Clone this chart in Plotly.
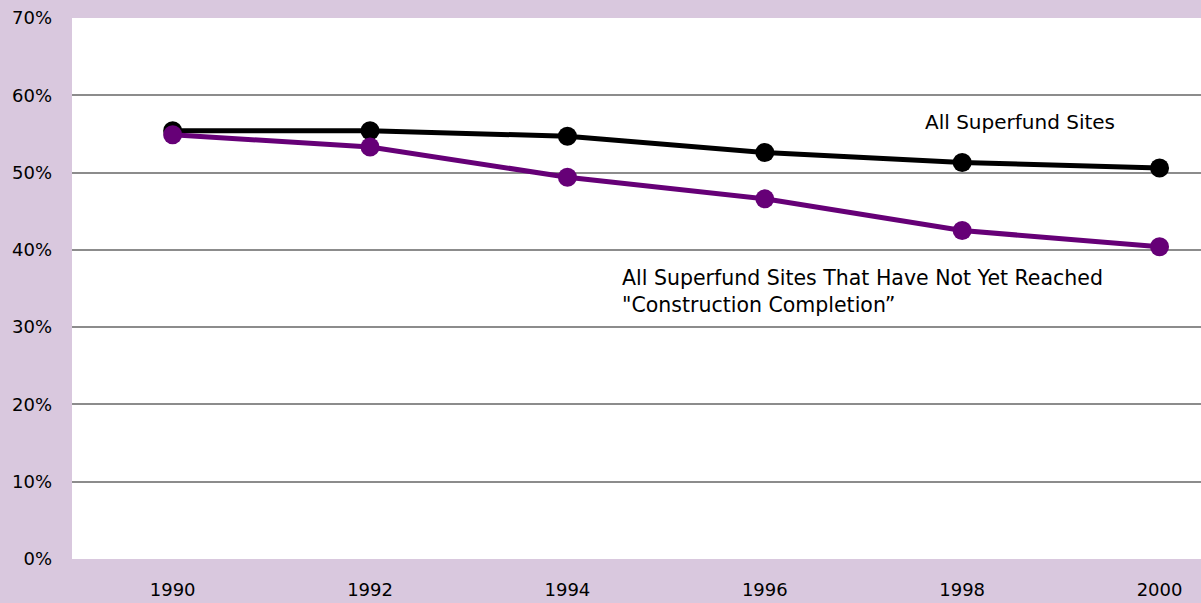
import plotly.graph_objects as go

years = [1990, 1992, 1994, 1996, 1998, 2000]
all_sites = [55.4, 55.4, 54.7, 52.6, 51.3, 50.6]
not_completed = [54.9, 53.3, 49.4, 46.6, 42.5, 40.4]
y_ticks = [0, 10, 20, 30, 40, 50, 60, 70]
y_tick_labels = ["0%", "10%", "20%", "30%", "40%", "50%", "60%", "70%"]

FONT = "DejaVu Sans, Liberation Sans, sans-serif"
BG = "#d9c8de"
PURPLE = "#660077"

fig = go.Figure()
fig.add_trace(go.Scatter(x=years, y=all_sites, mode="lines+markers",
                         line=dict(color="black", width=5),
                         marker=dict(color="black", size=19),
                         name="All Superfund Sites"))
fig.add_trace(go.Scatter(x=years, y=not_completed, mode="lines+markers",
                         line=dict(color=PURPLE, width=5),
                         marker=dict(color=PURPLE, size=19),
                         name="Not Yet Construction Completion"))

fig.add_annotation(x=1997.60, y=56.6, xref="x", yref="y", xanchor="left", yanchor="middle",
                   text="All Superfund Sites", showarrow=False,
                   font=dict(family=FONT, size=20, color="black"))
fig.add_annotation(x=1994.53, y=34.6, xref="x", yref="y", xanchor="left", yanchor="middle",
                   align="left",
                   text="All Superfund Sites That Have Not Yet Reached<br>\"Construction Completion\u201d",
                   showarrow=False,
                   font=dict(family=FONT, size=20.5, color="black"))

fig.update_layout(
    width=1201, height=603,
    margin=dict(l=72, r=0, t=18, b=44),
    paper_bgcolor=BG, plot_bgcolor="white",
    showlegend=False,
    font=dict(family=FONT, size=18, color="black"),
    xaxis=dict(range=[1988.98, 2000.42], tickvals=years, ticktext=[str(y) for y in years],
               showgrid=False, zeroline=False, showline=False, ticks="",
               ticklabelstandoff=18, tickfont=dict(size=18)),
    yaxis=dict(range=[0, 70], tickvals=y_ticks, ticktext=y_tick_labels,
               showgrid=True, gridcolor="#8c8c8c", gridwidth=1.5, zeroline=False,
               showline=False, ticks="", ticklabelstandoff=19, tickfont=dict(size=18)),
)

fig.write_html("out.html", config={"displayModeBar": False},
               post_script="document.body.style.margin='0';document.body.style.overflow='hidden';")
